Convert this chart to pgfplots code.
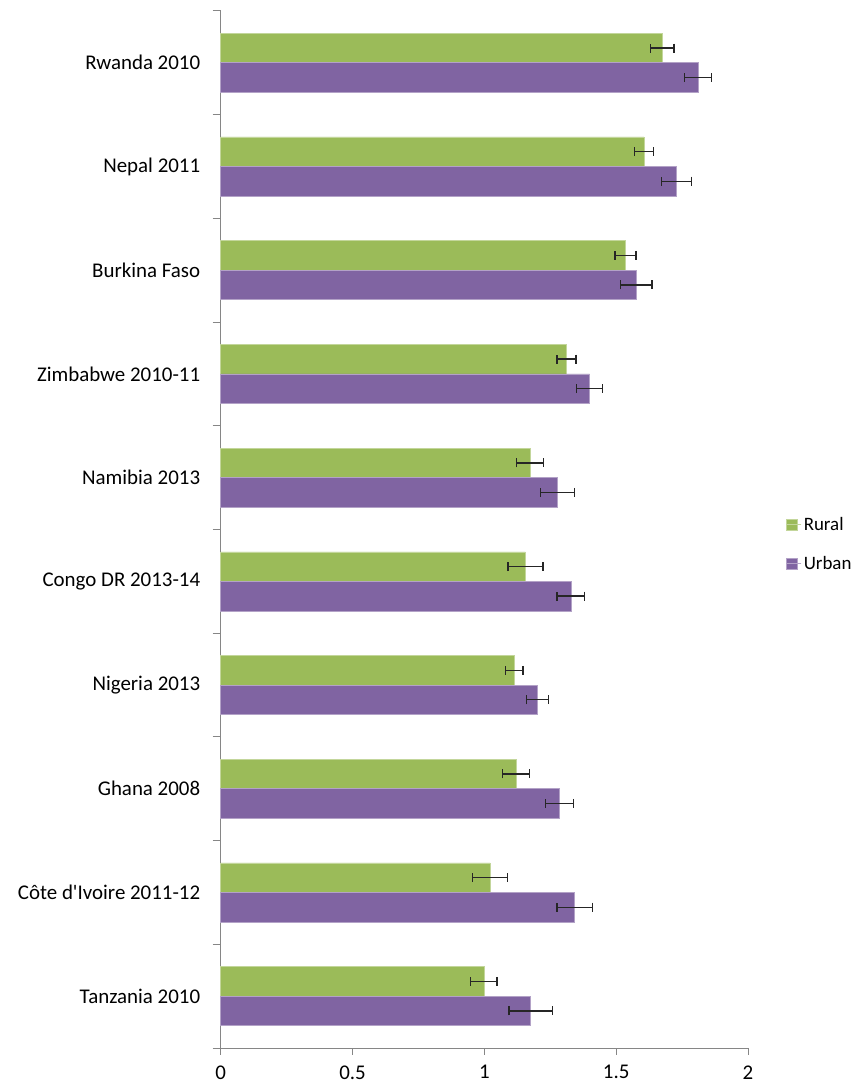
\documentclass[border=0pt]{standalone}
\usepackage{fontspec}
\setmainfont{Carlito}
\usepackage{pgfplots}
\pgfplotsset{compat=1.18}
\usepackage{pgfplotstable}
\definecolor{rural}{HTML}{9BBB59}
\definecolor{urban}{HTML}{8064A2}
\definecolor{axgray}{HTML}{868686}
\definecolor{errc}{HTML}{262626}

% y: 0 = Tanzania (bottom) ... 9 = Rwanda (top)
\pgfplotstableread{
y x e
0 0.998 0.050
1 1.022 0.067
2 1.120 0.050
3 1.113 0.034
4 1.156 0.066
5 1.173 0.051
6 1.312 0.036
7 1.535 0.040
8 1.605 0.036
9 1.674 0.045
}\rural
\pgfplotstableread{
y x e
0 1.176 0.082
1 1.343 0.067
2 1.285 0.052
3 1.201 0.041
4 1.328 0.053
5 1.278 0.065
6 1.399 0.049
7 1.576 0.060
8 1.729 0.058
9 1.810 0.052
}\urban

\begin{document}
\begin{tikzpicture}
\path[use as bounding box] (0,0) rectangle (860bp,1084bp);
\begin{axis}[
  at={(220.7bp,36bp)}, anchor=south west,
  scale only axis,
  width=527.3bp, height=1037bp,
  xmin=0, xmax=2, ymin=-0.5, ymax=9.5,
  axis x line*=bottom, axis y line*=left,
  axis line style={axgray, line width=1bp, -},
  xtick={0,0.5,1,1.5,2},
  xticklabels={0,0.5,1,1.5,2},
  ytick={0,...,9},
  yticklabels={Tanzania 2010, C\^ote d\textquotesingle Ivoire 2011-12, Ghana 2008, Nigeria 2013, Congo DR 2013-14, Namibia 2013, Zimbabwe 2010-11, Burkina Faso, Nepal 2011, Rwanda 2010},
  minor ytick={-0.5,0.5,...,9.5},
  tick align=outside,
  major tick length=7bp,
  minor tick length=8bp,
  tick style={axgray, line width=1bp},
  major y tick style={draw=none},
  tick label style={font=\fontsize{21}{24}\selectfont, black},
  x tick label style={yshift=-7bp},
  y tick label style={xshift=-10bp},
  /pgf/number format/assume math mode=true,
  clip=false,
  legend style={at={(1.072,0.486)}, anchor=west, draw=none, fill=none,
    font=\fontsize{19}{22}\selectfont, row sep=20bp, inner sep=0pt,
    nodes={inner sep=2bp}},
  legend cell align=left,
  legend image code/.code={\fill[#1] (0bp,-5.5bp) rectangle (11bp,5.5bp); \path (0bp,0bp) -- (15bp,0bp);},
  error bars/error bar style={errc, line width=1.3bp},
  error bars/error mark=|,
  error bars/error mark options={errc, line width=1.3bp, mark size=4.5bp},
]
\addplot[xbar, bar width=29.5bp, bar shift=14.75bp, fill=rural, draw=rural!60!white, line width=0.6bp]
  table[x=x, y=y] {\rural};
\addlegendentry{Rural}
\addplot[xbar, bar width=29.5bp, bar shift=-14.75bp, fill=urban, draw=urban!60!white, line width=0.6bp]
  table[x=x, y=y] {\urban};
\addlegendentry{Urban}
% error bars at the bar centres
\addplot[draw=none, mark=none, forget plot,
  error bars/.cd, x dir=both, x explicit]
  table[x=x, y expr=\thisrow{y}+0.14224, x error=e] {\rural};
\addplot[draw=none, mark=none, forget plot,
  error bars/.cd, x dir=both, x explicit]
  table[x=x, y expr=\thisrow{y}-0.14224, x error=e] {\urban};
\end{axis}
\end{tikzpicture}
\end{document}
